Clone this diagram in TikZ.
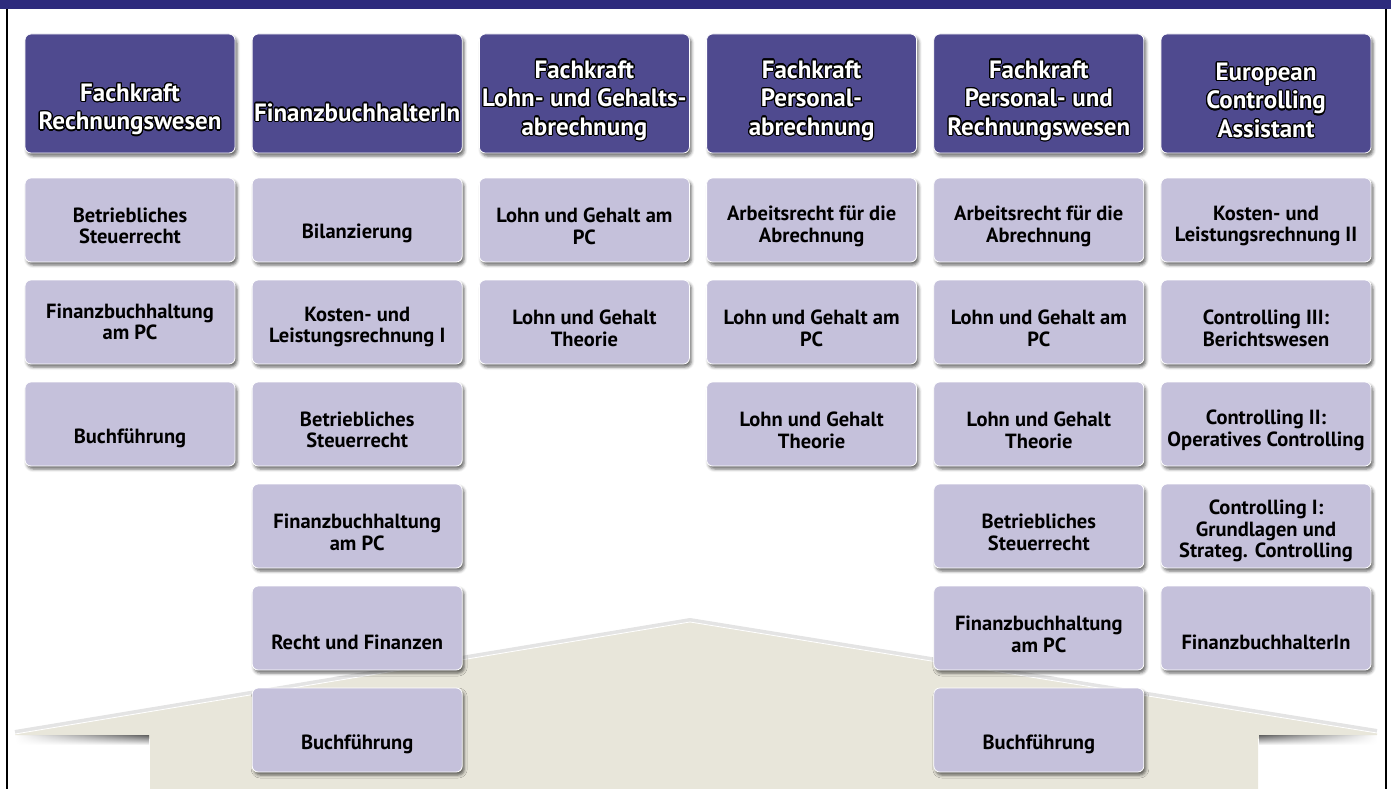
\documentclass[tikz,border=0pt]{standalone}
\usepackage{fontspec}
\setmainfont{PT Sans}
\usepackage[copies]{contour}
\usetikzlibrary{shadows.blur,fadings,positioning}
\definecolor{barcolor}{RGB}{46,43,125}
\definecolor{hdcolor}{RGB}{79,74,143}
\definecolor{modcolor}{RGB}{197,193,219}
\definecolor{basecolor}{RGB}{232,230,218}
\contourlength{1.2pt}
\newcommand{\hdline}[1]{\contour{black}{#1}}
\tikzfading[name=fade to west, left color=transparent!100, right color=transparent!0]
\tikzfading[name=fade to east, left color=transparent!0, right color=transparent!100]
\tikzset{
  hdbox/.style={fill=hdcolor, draw=white, line width=0.8pt, rounded corners=6pt,
    minimum width=210pt, minimum height=119pt, inner sep=0pt,
    blur shadow={shadow xshift=2pt, shadow yshift=-3pt, shadow blur radius=3pt, shadow opacity=60}},
  modbox/.style={hdbox, fill=modcolor, minimum height=84pt},
  hdtext/.style={text=white, align=center, font=\fontsize{25}{28.5}\selectfont\bfseries},
  modtext/.style={text=black, align=center, font=\fontsize{20.5}{21.7}\selectfont\bfseries}
}
\begin{document}
\begin{tikzpicture}[x=1pt,y=-1pt]
    \useasboundingbox (0,0) rectangle (1391,789);
    % frame
    \fill[barcolor] (0,0) rectangle (1391,9.5);
    \draw[line width=1.5pt] (7,9) -- (7,789);
    \draw[line width=1.5pt] (1386,9) -- (1386,789);

    % base platform
    \draw[black!30, line width=4pt, opacity=0.35] (15,732) -- (690,620) -- (1377,731);
    \fill[basecolor] (15,734) -- (690,622) -- (1377,733) -- (1377,735) -- (1262,735)
        -- (1258,739) -- (1258,789) -- (150,789) -- (150,739) -- (146,735) -- (15,735) -- cycle;
    \draw[white, line width=0.8pt] (15,734) -- (690,622) -- (1377,733);
    \shade[top color=black!60, bottom color=white, path fading=fade to west] (15,735.5) rectangle (149,745);
    \shade[top color=black!60, bottom color=white, path fading=fade to east] (1259,735.5) rectangle (1377,745);

    % headers
    \foreach \c/\y/\t in {1/110/{\hdline{Fachkraft}\\\hdline{Rechnungswesen}},
        2/113/{\hdline{FinanzbuchhalterIn}},
        3/101/{\hdline{Fachkraft}\\\hdline{Lohn- und Gehalts-}\\\hdline{abrechnung}},
        4/101/{\hdline{Fachkraft}\\\hdline{Personal-}\\\hdline{abrechnung}},
        5/101/{\hdline{Fachkraft}\\\hdline{Personal- und}\\\hdline{Rechnungswesen}},
        6/101/{\hdline{European}\\\hdline{Controlling}\\\hdline{Assistant}}}{
        \node[hdbox] (k\c) at ({130+227.2*(\c-1)},93.5) {};
        \node[hdtext] (h\c) at ({130+227.2*(\c-1)},\y) {\t};
    }

    % modules
    \foreach \c/\r/\dy/\t in {1/1/6/{Betriebliches\\Steuerrecht},
        1/2/0/{Finanzbuchhaltung\\am PC},
        1/3/14/{Buchführung},
        2/1/13/{Bilanzierung},
        2/2/5/{Kosten- und\\Leistungsrechnung I},
        2/3/6/{Betriebliches\\Steuerrecht},
        2/4/6/{Finanzbuchhaltung\\am PC},
        2/5/14/{Recht und Finanzen},
        2/6/14/{Buchführung},
        3/1/6/{Lohn und Gehalt am\\PC},
        3/2/6/{Lohn und Gehalt\\Theorie},
        4/1/6/{Arbeitsrecht für die\\Abrechnung},
        4/2/6/{Lohn und Gehalt am\\PC},
        4/3/6/{Lohn und Gehalt\\Theorie},
        5/1/6/{Arbeitsrecht für die\\Abrechnung},
        5/2/6/{Lohn und Gehalt am\\PC},
        5/3/6/{Lohn und Gehalt\\Theorie},
        5/4/6/{Betriebliches\\Steuerrecht},
        5/5/6/{Finanzbuchhaltung\\am PC},
        5/6/14/{Buchführung},
        6/1/6/{Kosten- und\\Leistungsrechnung II},
        6/2/6/{Controlling III:\\Berichtswesen},
        6/3/6/{Controlling II:\\Operatives Controlling},
        6/4/5/{Controlling I:\\Grundlagen und\\Strateg. Controlling},
        6/5/14/{FinanzbuchhalterIn}}{
        \node[modbox] (m\c\r) at ({130+227.2*(\c-1)},{220+102*(\r-1)}) {};
        \node[modtext] (t\c\r) at ([yshift=-\dy pt]m\c\r.center) {\t};
    }
\end{tikzpicture}
\end{document}
